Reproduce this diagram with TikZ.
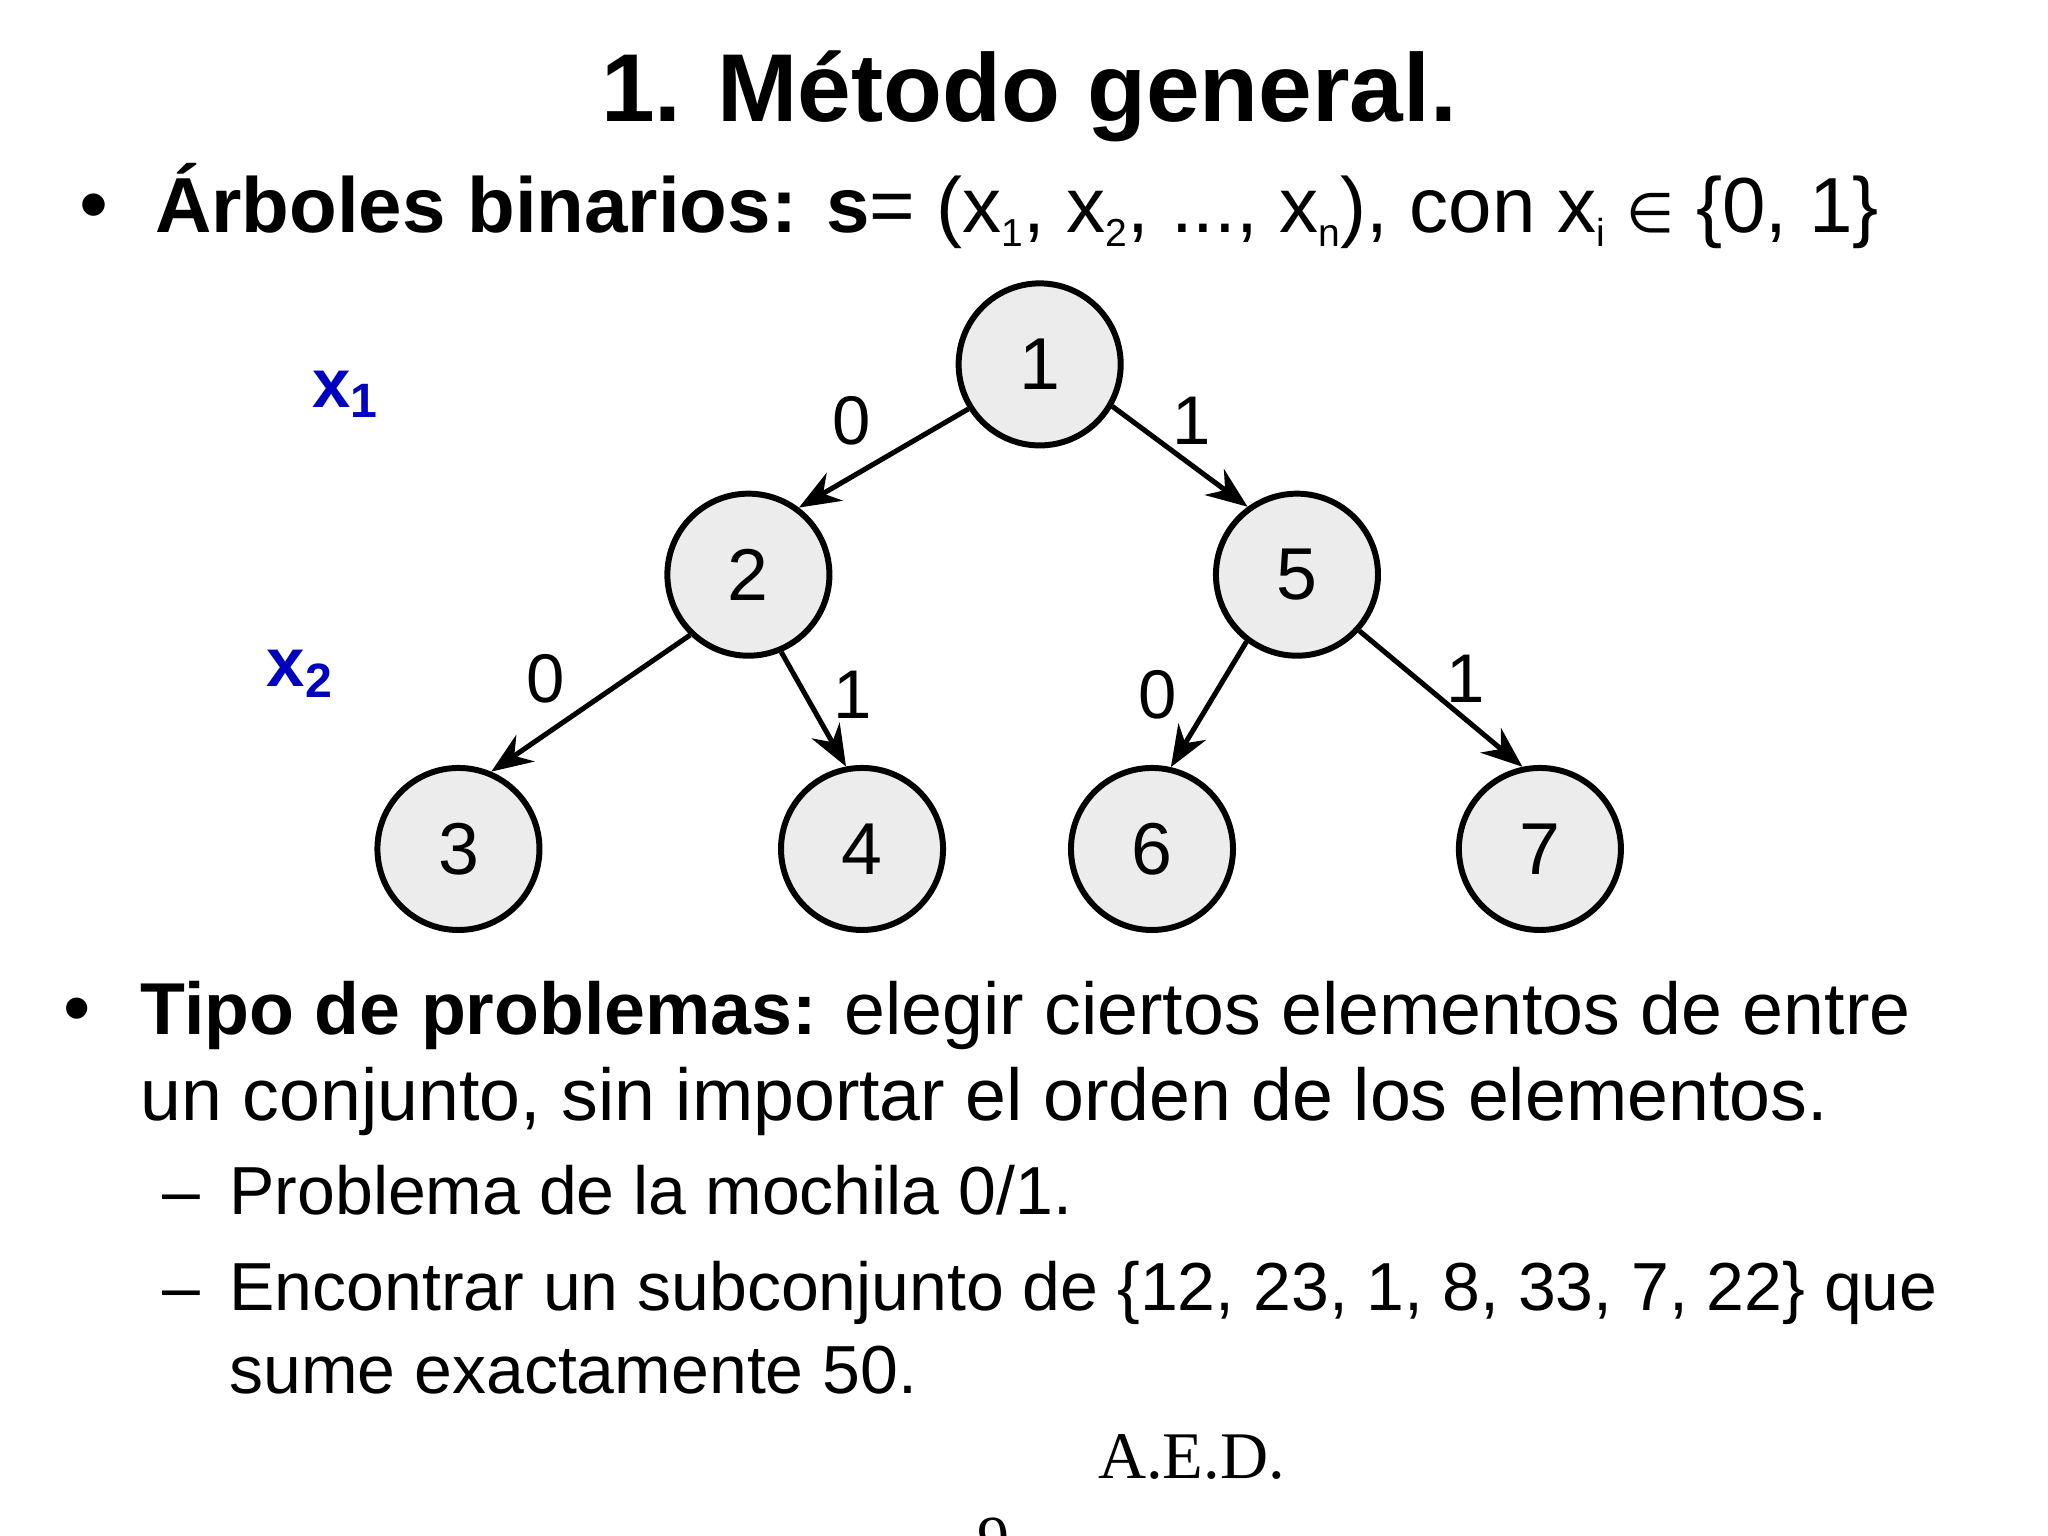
\documentclass[tikz,border=0pt]{standalone}
\usepackage{fontspec}
\setmainfont{Liberation Sans}
\newfontfamily\dvs{DejaVu Sans}
\newfontfamily\tms{Liberation Serif}
\usetikzlibrary{arrows.meta}
\newcommand{\sbx}[1]{\raisebox{-0.35ex}{\fontsize{8.5}{10}\selectfont #1}}
\begin{document}
\begin{tikzpicture}[x=0.01cm,y=-0.01cm,
  circ/.style={circle,draw,line width=1.3pt,fill=gray!15,minimum size=1.24cm,inner sep=0pt,font=\fontsize{16}{18}\selectfont},
  edge/.style={line width=1.1pt,-{Stealth[length=9pt,width=7pt]}},
  elab/.style={font=\fontsize{15}{17}\selectfont},
  xlab/.style={text=blue!75!black,font=\bfseries\fontsize{15}{17}\selectfont},
  txt/.style={anchor=base west,inner sep=0pt}]
\useasboundingbox[fill=white] (0,0) rectangle (1568,1176);
\node[anchor=base,inner sep=0pt,font=\bfseries\fontsize{21}{24}\selectfont] (title) at (788,93) {1. Método general.};
\node[txt,font=\fontsize{18}{20}\selectfont] (b1) at (60,178) {•};
\node[txt,font=\fontsize{17}{20}\selectfont] (l1) at (118,178) {\textbf{Árboles binarios: s}= (x\sbx{1}, x\sbx{2}, ..., x\sbx{n}), con x\sbx{i} {\dvs\fontsize{12}{15}\selectfont∈} \{0, 1\}};
\node[circ] (n1) at (796,279) {1};
\node[circ] (n2) at (573,440) {2};
\node[circ] (n5) at (993,440) {5};
\node[circ] (n3) at (351,650) {3};
\node[circ] (n4) at (660,650) {4};
\node[circ] (n6) at (882,650) {6};
\node[circ] (n7) at (1179,650) {7};
\draw[edge] (n1.-148) -- (n2.53);
\draw[edge] (n1.-30) -- (n5.126);
\draw[edge] (n2.-134) -- (n3.67);
\draw[edge] (n2.-67) -- (n4.101);
\draw[edge] (n5.-127) -- (n6.77);
\draw[edge] (n5.-42) -- (n7.102);
\node[elab] (e1) at (652,322) {0};
\node[elab] (e2) at (912,322) {1};
\node[elab] (e3) at (418,520) {0};
\node[elab] (e4) at (653,532) {1};
\node[elab] (e5) at (886,532) {0};
\node[elab] (e6) at (1122,520) {1};
\node[xlab] (x1) at (265,302) {x\textsubscript{1}};
\node[xlab] (x2) at (230,516) {x\textsubscript{2}};
\node[txt,font=\fontsize{17}{20}\selectfont] (b2) at (48,792) {•};
\node[txt,font=\fontsize{16}{20}\selectfont] (t1) at (107,792) {\textbf{Tipo de problemas:} elegir ciertos elementos de entre};
\node[txt,font=\fontsize{16}{20}\selectfont] (t2) at (107,858) {un conjunto, sin importar el orden de los elementos.};
\node[txt,font=\fontsize{14.8}{18}\selectfont] (d1) at (124,930) {–};
\node[txt,font=\fontsize{14.8}{18}\selectfont] (t3) at (175,930) {Problema de la mochila 0/1.};
\node[txt,font=\fontsize{14.8}{18}\selectfont] (d2) at (124,1003) {–};
\node[txt,font=\fontsize{14.8}{18}\selectfont] (t4) at (175,1003) {Encontrar un subconjunto de \{12, 23, 1, 8, 33, 7, 22\} que};
\node[txt,font=\fontsize{14.8}{18}\selectfont] (t5) at (175,1067) {sume exactamente 50.};
\node[txt,font=\tms\fontsize{14.5}{16}\selectfont] (aed) at (840,1132) {A.E.D.};
\node[txt,font=\tms\fontsize{14}{16}\selectfont] (pg) at (748,1195) {9};
\end{tikzpicture}
\end{document}
